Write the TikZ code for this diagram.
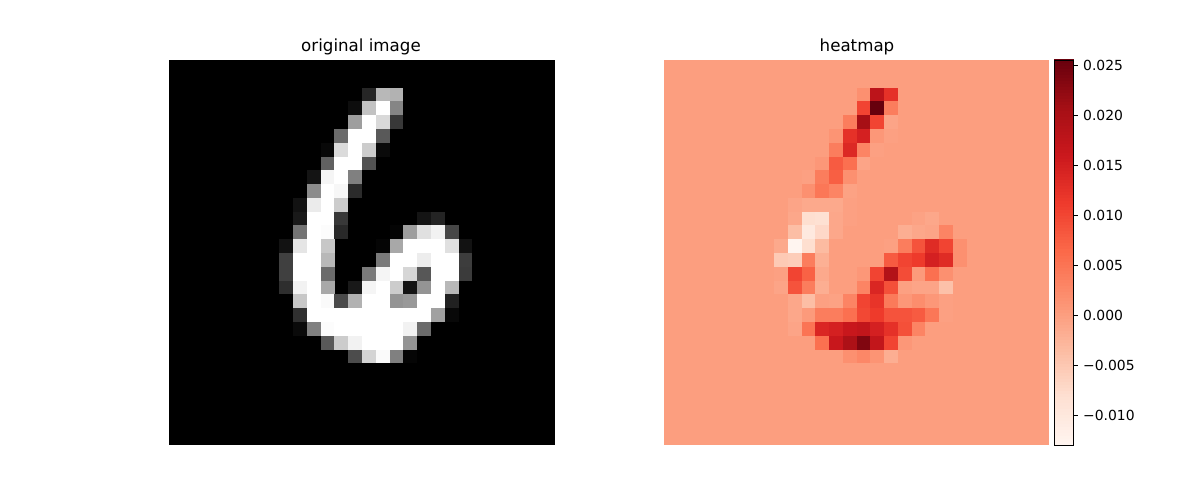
\documentclass[tikz,border=0pt]{standalone}
\usepackage{fontspec}
\setmainfont{DejaVu Sans}
\definecolor{rd0}{RGB}{255,245,240}
\definecolor{rd1}{RGB}{254,224,210}
\definecolor{rd2}{RGB}{252,187,161}
\definecolor{rd3}{RGB}{252,146,114}
\definecolor{rd4}{RGB}{251,106,74}
\definecolor{rd5}{RGB}{239,59,44}
\definecolor{rd6}{RGB}{203,24,29}
\definecolor{rd7}{RGB}{165,15,21}
\definecolor{rd8}{RGB}{103,0,13}
\newcommand{\redsset}[1]{%
  \pgfmathsetmacro{\rt}{min(0.99999,max(0,#1))*8}%
  \pgfmathtruncatemacro{\ri}{floor(\rt)}%
  \pgfmathsetmacro{\rp}{100*(\rt-\ri)}%
  \pgfmathtruncatemacro{\rj}{\ri+1}%
  \colorlet{cellc}{rd\rj!\rp!rd\ri}%
}
\newcommand{\graycells}[2]{% row, list of col/value
  \foreach \c/\v in {#2}{
    \pgfmathsetmacro{\xa}{169+13.786*\c}
    \pgfmathsetmacro{\ya}{60+13.786*#1}
    \pgfmathsetmacro{\pc}{100*\v}
    \fill[white!\pc!black] (\xa,\ya) rectangle ++(13.9,13.9);
  }}
\newcommand{\heatcells}[2]{%
  \foreach \c/\v in {#2}{
    \pgfmathsetmacro{\xa}{664+13.75*\c}
    \pgfmathsetmacro{\ya}{60+13.786*#1}
    \pgfmathsetmacro{\vv}{(\v>.25 && \v<.34) ? .34-(.34-\v)*.7 : \v}
    \redsset{\vv}
    \fill[cellc] (\xa,\ya) rectangle ++(13.9,13.9);
  }}
\tikzset{
  axtitle/.style={font=\fontsize{16.67}{20}\selectfont,anchor=base,inner sep=0pt},
  ticklabel/.style={font=\fontsize{13.89}{16}\selectfont,anchor=west,inner sep=0pt},
  axframe/.style={draw=black,line width=.9pt},
}
\begin{document}
\begin{tikzpicture}[x=1pt,y=-1pt]
\useasboundingbox (0,0) rectangle (1200,500);
\fill[white] (0,0) rectangle (1200,500);
% left image
\fill[black] (169,60) rectangle (555,445);
\graycells{2}{14/.15,15/.72,16/.70}
\graycells{3}{13/.05,14/.76,15/1,16/.52}
\graycells{4}{13/.62,14/1,15/.85,16/.22}
\graycells{5}{12/.42,13/1,14/1,15/.35}
\graycells{6}{11/.03,12/.86,13/1,14/.8,15/.04}
\graycells{7}{11/.38,12/1,13/1,14/.32}
\graycells{8}{10/.08,11/.96,12/1,13/.5}
\graycells{9}{10/.55,11/1,12/.97,13/.17}
\graycells{10}{9/.07,10/.92,11/1,12/.8}
\graycells{11}{9/.1,10/1,11/1,12/.22,18/.08,19/.14}
\graycells{12}{9/.45,10/1,11/.99,12/.16,16/.015,17/.62,18/.88,19/.95,20/.28}
\graycells{13}{8/.07,9/.9,10/1,11/.78,15/.02,16/.66,17/1,18/1,19/1,20/.88,21/.07}
\graycells{14}{8/.25,9/1,10/1,11/.72,15/.48,16/1,17/1,18/.93,19/1,20/1,21/.24}
\graycells{15}{8/.25,9/1,10/1,11/.42,14/.48,15/.96,16/1,17/.84,18/.34,19/1,20/1,21/.23}
\graycells{16}{8/.18,9/.95,10/1,11/.66,13/.1,14/.96,15/1,16/.8,17/.08,18/.58,19/1,20/.72}
\graycells{17}{9/.78,10/1,11/.98,12/.29,13/.7,14/1,15/1,16/.58,17/.6,18/1,19/1,20/.13}
\graycells{18}{9/.19,10/1,11/1,12/1,13/1,14/1,15/1,16/1,17/1,18/1,19/.63,20/.03}
\graycells{19}{9/.04,10/.5,11/.99,12/1,13/1,14/1,15/1,16/1,17/.95,18/.42}
\graycells{20}{11/.35,12/.8,13/.95,14/1,15/1,16/1,17/.58}
\graycells{21}{13/.3,14/.83,15/.98,16/.5,17/.02}
% heatmap
\redsset{.34}
\fill[cellc] (664,60) rectangle (1049,445);
\heatcells{2}{14/.38,15/.80,16/.66}
\heatcells{3}{14/.6,15/1,16/.44}
\heatcells{4}{13/.44,14/.87,15/.6,16/.31}
\heatcells{5}{12/.37,13/.66,14/.72,15/.36,16/.33}
\heatcells{6}{12/.44,13/.69,14/.42,15/.33}
\heatcells{7}{11/.36,12/.54,13/.48,14/.31}
\heatcells{8}{10/.33,11/.44,12/.53,13/.38}
\heatcells{9}{10/.38,11/.46,12/.42,13/.32}
\heatcells{10}{9/.31,10/.29,11/.29,12/.29,13/.33}
\heatcells{11}{9/.30,10/.13,11/.12,12/.30,13/.33,18/.32,19/.30}
\heatcells{12}{9/.24,10/.07,11/.15,12/.30,17/.27,18/.30,19/.31,20/.42}
\heatcells{13}{8/.29,9/0,10/.13,11/.25,16/.33,17/.44,18/.56,19/.68,20/.60,21/.38}
\heatcells{14}{8/.20,9/.19,10/.44,11/.26,16/.54,17/.60,18/.63,19/.72,20/.68,21/.38}
\heatcells{15}{8/.33,9/.60,10/.52,11/.29,14/.36,15/.60,16/.83,17/.58,18/.35,19/.48,20/.38}
\heatcells{16}{8/.31,9/.56,10/.44,11/.27,14/.42,15/.70,16/.57,17/.33,18/.31,19/.31,20/.23}
\heatcells{17}{9/.30,10/.24,11/.33,12/.32,13/.42,14/.60,15/.65,16/.45,17/.36,18/.39,19/.36,20/.33}
\heatcells{18}{9/.30,10/.35,11/.44,12/.44,13/.48,14/.59,15/.63,16/.56,17/.56,18/.54,19/.46,20/.33}
\heatcells{19}{9/.31,10/.47,11/.70,12/.72,13/.76,14/.78,15/.72,16/.66,17/.57,18/.42}
\heatcells{20}{11/.48,12/.76,13/.85,14/.95,15/.78,16/.60,17/.36}
\heatcells{21}{13/.38,14/.41,15/.37,16/.27}
% titles
\node[axtitle] (t1) at (361,52) {original image};
\node[axtitle] (t2) at (857,52) {heatmap};
% colour bar
\foreach \k in {0,...,127}{
  \pgfmathsetmacro{\ya}{445-3.0078*\k}
  \redsset{(\k+.5)/128}
  \fill[cellc] (1054,\ya) rectangle (1073.5,\ya-3.6);
}
\draw[axframe] (1054,60) rectangle (1073.5,445);
\foreach \v/\lab in {0.025/0.025,0.020/0.020,0.015/0.015,0.010/0.010,0.005/0.005,0/0.000,-0.005/−0.005,-0.010/−0.010}{
  \pgfmathsetmacro{\yy}{65.2+(0.025-\v)*10020}
  \draw[line width=.8pt] (1073.5,\yy) -- ++(4.9,0);
  \node[ticklabel] at (1083,\yy) {\lab};
}
\end{tikzpicture}
\end{document}
